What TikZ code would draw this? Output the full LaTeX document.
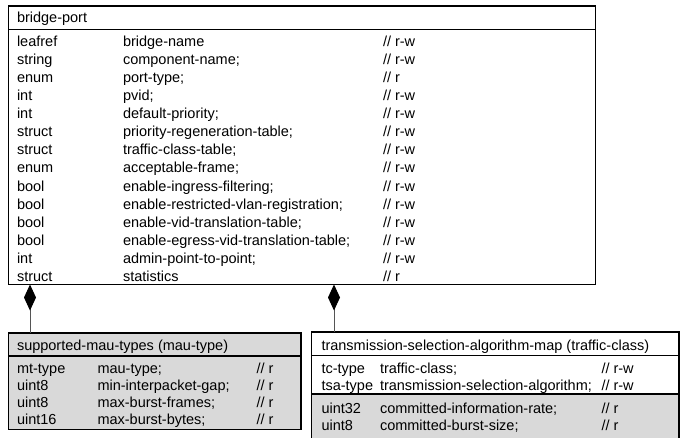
\documentclass[tikz,border=0pt]{standalone}
\usepackage{fontspec}
\setmainfont{Liberation Sans}
\usetikzlibrary{arrows.meta}
\definecolor{boxgray}{HTML}{D9D9D9}
\definecolor{linegray}{HTML}{555555}
\newcommand{\myrw}{// r-w}
\newcommand{\myr}{// r}
\begin{document}
\begin{tikzpicture}[x=1pt,y=-1pt,
  font=\fontsize{14.5}{17}\selectfont,
  box/.style={draw=black, line width=1.3pt, inner sep=0pt, outer sep=0pt, anchor=north west},
  txt/.style={anchor=base west, inner sep=0pt, outer sep=0pt},
  conn/.style={draw=linegray, line width=1pt, -{Diamond[length=26pt,width=12pt,color=black,fill=black]}}]
\useasboundingbox (0,0) rectangle (682,437);

% ---------- main box ----------
\node[box, fill=white, minimum width=587pt, minimum height=278.5pt] (main) at (8.5,6) {};
\node[box, minimum width=587pt, minimum height=23.5pt] (mainhead) at (8.5,6) {};
\node[txt] (mainhtxt) at (17,22) {bridge-port};
\foreach [count=\i from 0] \ty/\nm/\cm in {
  leafref/bridge-name/\myrw,
  string/component-name;/\myrw,
  enum/port-type;/\myr,
  int/pvid;/\myrw,
  int/default-priority;/\myrw,
  struct/priority-regeneration-table;/\myrw,
  struct/traffic-class-table;/\myrw,
  enum/acceptable-frame;/\myrw,
  bool/enable-ingress-filtering;/\myrw,
  bool/enable-restricted-vlan-registration;/\myrw,
  bool/enable-vid-translation-table;/\myrw,
  bool/enable-egress-vid-translation-table;/\myrw,
  int/admin-point-to-point;/\myrw,
  struct/statistics/\myr}{
  \node[txt] (mt\i) at (17,46.5+18.07*\i) {\ty};
  \node[txt] (mn\i) at (123,46.5+18.07*\i) {\nm};
  \node[txt] (mc\i) at (383,46.5+18.07*\i) {\cm};
}

% ---------- supported-mau-types ----------
\node[box, fill=boxgray, minimum width=292.5pt, minimum height=96.5pt] (mau) at (8.5,333) {};
\node[box, minimum width=292.5pt, minimum height=23pt] (mauhead) at (8.5,333) {};
\node[txt] (mauhtxt) at (17,350) {supported-mau-types (mau-type)};
\foreach [count=\i from 0] \ty/\nm in {
  mt-type/mau-type;,
  uint8/min-interpacket-gap;,
  uint8/max-burst-frames;,
  uint16/max-burst-bytes;}{
  \node[txt] (at\i) at (17,373.3+17.2*\i) {\ty};
  \node[txt] (an\i) at (97.5,373.3+17.2*\i) {\nm};
  \node[txt] (ac\i) at (256.5,373.3+17.2*\i) {\myr};
}

% ---------- transmission-selection-algorithm-map ----------
\node[box, fill=white, minimum width=367.5pt, minimum height=107pt] (tsa) at (311.5,332) {};
\node[box, fill=boxgray, minimum width=367.5pt, minimum height=45pt] (tsalow) at (311.5,394) {};
\node[box, minimum width=367.5pt, minimum height=23.5pt] (tsahead) at (311.5,332) {};
\node[txt] (tsahtxt) at (321.5,350) {transmission-selection-algorithm-map (traffic-class)};
\node[txt] (tt0) at (321.5,373) {tc-type};
\node[txt] (tn0) at (380,373) {traffic-class;};
\node[txt] (tc0) at (601.5,373) {\myrw};
\node[txt] (tt1) at (321.5,390.5) {tsa-type};
\node[txt] (tn1) at (380,390.5) {transmission-selection-algorithm;};
\node[txt] (tc1) at (601.5,390.5) {\myrw};
\node[txt] (tt2) at (321.5,413) {uint32};
\node[txt] (tn2) at (380,413) {committed-information-rate;};
\node[txt] (tc2) at (601.5,413) {\myr};
\node[txt] (tt3) at (321.5,430.5) {uint8};
\node[txt] (tn3) at (380,430.5) {committed-burst-size;};
\node[txt] (tc3) at (601.5,430.5) {\myr};

% ---------- connectors ----------
\coordinate (x1) at (30,0);
\coordinate (x2) at (334,0);
\draw[conn] (x1 |- mau.north) -- (x1 |- main.south);
\draw[conn] (x2 |- tsa.north) -- (x2 |- main.south);
\end{tikzpicture}
\end{document}
